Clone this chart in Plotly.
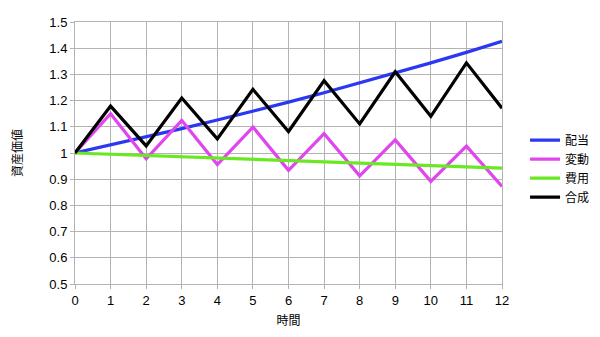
import plotly.graph_objects as go

t = list(range(13))
haitou = [1.000, 1.030, 1.061, 1.093, 1.126, 1.159, 1.194, 1.230, 1.267, 1.305, 1.344, 1.384, 1.426]
hendou = [1.000, 1.150, 0.978, 1.124, 0.956, 1.099, 0.934, 1.074, 0.913, 1.050, 0.892, 1.026, 0.872]
hiyou = [1.000, 0.995, 0.990, 0.985, 0.980, 0.975, 0.970, 0.966, 0.961, 0.956, 0.951, 0.946, 0.942]
gousei = [1.000, 1.179, 1.027, 1.210, 1.054, 1.243, 1.082, 1.276, 1.111, 1.310, 1.140, 1.344, 1.171]

names = ["配当", "変動", "費用", "合成"]
series = [haitou, hendou, hiyou, gousei]
colors = ["#2b38f2", "#e046ee", "#6ae824", "#000000"]

fig = go.Figure()
for n, s, c in zip(names, series, colors):
    fig.add_trace(go.Scatter(x=t, y=s, mode="lines", name=n,
                             line=dict(color=c, width=3.2)))

font = "Liberation Sans, Arial, Noto Sans CJK JP, sans-serif"
fig.update_layout(
    width=600, height=337,
    margin=dict(l=75, r=98, t=22, b=53, autoexpand=False),
    paper_bgcolor="white", plot_bgcolor="white",
    font=dict(family=font, size=13, color="#000"),
    showlegend=True,
    legend=dict(x=1.054, y=0.44, xanchor="left", yanchor="middle",
                font=dict(size=12), tracegroupgap=0, itemwidth=30),
    xaxis=dict(range=[0, 12], tickvals=t, showgrid=True, gridcolor="#b3b3b3",
               gridwidth=1, zeroline=False, showline=True, linecolor="#b3b3b3",
               mirror=True, ticks="outside", ticklen=4, tickcolor="#b3b3b3",
               title=dict(text="時間", font=dict(size=12), standoff=10)),
    yaxis=dict(range=[0.5, 1.5], dtick=0.1, showgrid=True, gridcolor="#b3b3b3",
               gridwidth=1, zeroline=False, showline=True, linecolor="#b3b3b3",
               mirror=True, ticks="outside", ticklen=4, tickcolor="#b3b3b3",
               tickformat="~g",
               title=dict(text="資産価値", font=dict(size=12), standoff=24)),
)
fig.write_html("out.html")
